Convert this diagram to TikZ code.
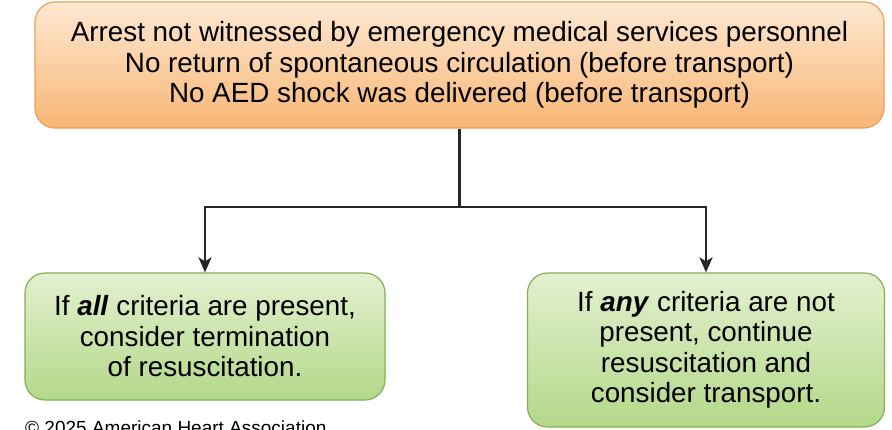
\documentclass[tikz,border=0pt]{standalone}
\usepackage{fontspec}
\setmainfont{Liberation Sans}
\usetikzlibrary{arrows.meta}

\definecolor{orangetop}{HTML}{FDE8D2}
\definecolor{orangebot}{HTML}{F8B675}
\definecolor{orangeline}{HTML}{E8A05A}
\definecolor{greentop}{HTML}{E3F0CF}
\definecolor{greenbot}{HTML}{B3D889}
\definecolor{greenline}{HTML}{82B057}

\tikzset{
  criteria/.style={draw=orangeline, line width=1.2pt, rounded corners=20pt,
    top color=orangetop, bottom color=orangebot, align=center,
    font=\fontsize{27.8}{30.5}\selectfont},
  outcome/.style={draw=greenline, line width=1.2pt, rounded corners=20pt,
    top color=greentop, bottom color=greenbot, align=center,
    font=\fontsize{27.8}{30.5}\selectfont},
  flow/.style={line width=2.7pt, black!85},
}

\begin{document}
\begin{tikzpicture}[x=1pt,y=-1pt]
    \useasboundingbox (0,0) rectangle (892,429);

    \node[criteria, minimum width=849pt, minimum height=126pt] (arrest) at (459.5,65)
      {Arrest not witnessed by emergency medical services personnel\\
       No return of spontaneous circulation (before transport)\\
       No AED shock was delivered (before transport)};

    \node[outcome, minimum width=360pt, minimum height=127pt] (stop) at (205,336.5)
      {If \textbf{\textit{all}} criteria are present,\\
       consider termination\\
       of resuscitation.};

    \node[outcome, minimum width=357pt, minimum height=154pt] (go) at (706,350)
      {If \textbf{\textit{any}} criteria are not\\
       present, continue\\
       resuscitation and\\
       consider transport.};

    \coordinate (split) at (459.5,207);

    \draw[flow] (arrest.south) -- (split);
    \draw[flow, -{Stealth[length=15pt, width=13pt, inset=4pt]}] (split) -| (stop.north);
    \draw[flow, -{Stealth[length=15pt, width=13pt, inset=4pt]}] (split) -| (go.north);

    \node[anchor=north west, inner sep=0pt, font=\fontsize{19}{22}\selectfont] (copy) at (25,421)
      {\textcopyright{} 2025 American Heart Association};
\end{tikzpicture}
\end{document}
